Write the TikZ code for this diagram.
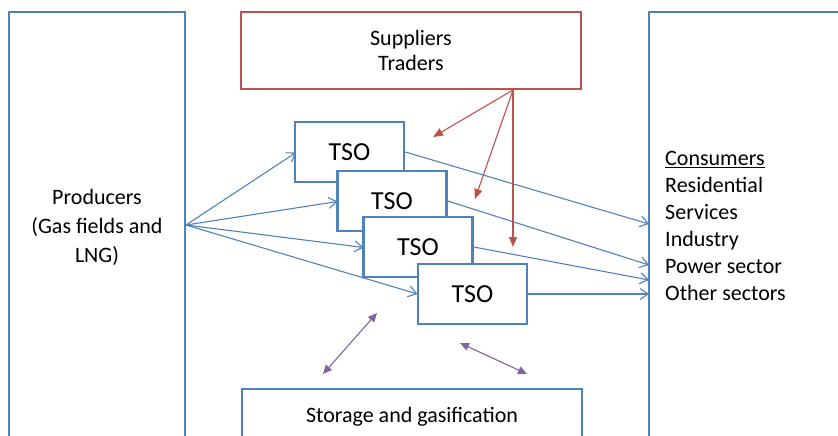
\documentclass[tikz,border=0pt]{standalone}
\usepackage{fontspec}
\setmainfont{Carlito}
\usetikzlibrary{arrows.meta}
\definecolor{bblue}{HTML}{4F81BD}
\definecolor{rred}{HTML}{C0504D}
\definecolor{ppurple}{HTML}{8064A2}
\tikzset{
  box/.style={draw=bblue, line width=2.6pt, fill=white, inner sep=0pt},
  redbox/.style={draw=rred, line width=2.6pt, fill=white, inner sep=0pt, align=center},
  tsobox/.style={box, minimum width=109pt, minimum height=60pt, font=\fontsize{26}{30}\selectfont},
  lbl/.style={inner sep=0pt, font=\fontsize{22}{27}\selectfont},
  flow/.style={draw=bblue, line width=1.1pt, -{Straight Barb[length=8pt,width=11pt]}},
  supply/.style={draw=rred, line width=1.1pt, -{Triangle[length=10pt,width=8pt]}},
  storflow/.style={draw=ppurple, line width=1.1pt, {Triangle[length=9pt,width=8pt]}-{Triangle[length=9pt,width=8pt]}}
}
\begin{document}
\begin{tikzpicture}[x=1pt,y=-1pt]
\useasboundingbox (0,0) rectangle (838,436);
\clip (0,0) rectangle (838,436);

% big side boxes
\node[box, minimum width=176pt, minimum height=428pt] (prodbox) at (97,226) {};
\node[lbl, align=center, font=\fontsize{22}{29}\selectfont] (prod) at (97,227) {Producers\\(Gas fields and\\LNG)};
\node[box, minimum width=220pt, minimum height=428pt] (consbox) at (759,226) {};
\node[lbl, align=left, anchor=west] (cons) at (665,226) {\underline{Consumers}\\Residential\\Services\\Industry\\Power sector\\Other sectors};

% suppliers
\node[redbox, minimum width=340pt, minimum height=77pt, font=\fontsize{22}{25}\selectfont] (sup) at (411,50.5) {Suppliers\\Traders};

% storage
\node[box, minimum width=340pt, minimum height=56pt, font=\fontsize{22}{25}\selectfont] (stor) at (412,417) {Storage and gasification};

% coordinates
\coordinate (ps) at (186,225);
\coordinate (rs) at (513,90);
\coordinate (r1) at (433,137);
\coordinate (r2) at (475,199);
\coordinate (r3) at (513,247);
\coordinate (c1) at (649,224);
\coordinate (c2) at (649,265);
\coordinate (c3) at (649,280);
\coordinate (c4) at (649,294);
\coordinate (p1a) at (323,374);
\coordinate (p1b) at (377,313);
\coordinate (p2a) at (460,343);
\coordinate (p2b) at (527,374);

% producer arrows (behind TSO boxes)
\draw[flow] (ps) -- (296,152.5);
\draw[flow] (ps) -- (337.5,201.5);
\draw[flow] (ps) -- (363.5,247.5);
\draw[flow] (ps) -- (417.5,294);

% TSO boxes
\node[tsobox] (tso1) at (349.5,152) {TSO};
\node[tsobox] (tso2) at (392,201) {TSO};
\node[tsobox] (tso3) at (418,247) {TSO};
\node[tsobox] (tso4) at (472.5,294) {TSO};

% consumer arrows
\draw[flow] (tso1.east) -- (c1);
\draw[flow] (tso2.east) -- (c2);
\draw[flow] (tso3.east) -- (c3);
\draw[flow] (tso4.east) -- (c4);

% supplier arrows
\draw[supply] (rs) -- (r1);
\draw[supply] (rs) -- (r2);
\draw[supply] (rs) -- (r3);

% storage arrows
\draw[storflow] (p1a) -- (p1b);
\draw[storflow] (p2a) -- (p2b);
\end{tikzpicture}
\end{document}
